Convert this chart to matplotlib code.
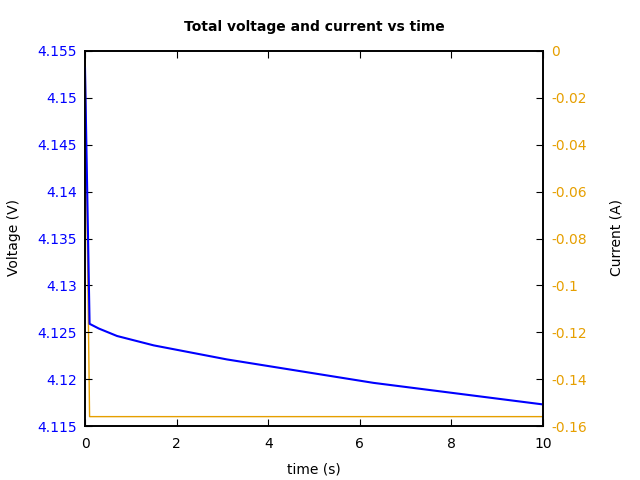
import numpy as np
import matplotlib
matplotlib.use("Agg")
import matplotlib.pyplot as plt
from matplotlib.ticker import FormatStrFormatter

# voltage trace
time_v = [0, 0.1, 0.3, 0.7, 1.5, 3.1, 6.3, 10]
voltage = [4.1532, 4.1259, 4.1254, 4.1246, 4.1236, 4.1221, 4.1196, 4.1173]

# current trace
time_i = [0, 0.1, 10]
current = [0, -0.156, -0.156]

# tick positions
v_ticks = [4.115, 4.12, 4.125, 4.13, 4.135, 4.14, 4.145, 4.15, 4.155]
i_ticks = [-0.16, -0.14, -0.12, -0.1, -0.08, -0.06, -0.04, -0.02, 0.0]

blue = "#0000ff"
orange = "#e69f00"

fig = plt.figure(figsize=(6.4, 4.8), dpi=100)
ax = fig.add_axes([85 / 640, 1 - 426 / 480, (543 - 85) / 640, (426 - 51) / 480])
ax2 = ax.twinx()

ax2.plot(time_i, current, color=orange, lw=1)
ax.plot(time_v, voltage, color=blue, lw=1.5)
ax.set_zorder(ax2.get_zorder() + 1)
ax.patch.set_visible(False)

ax.set_xlim(0, 10)
ax.set_ylim(4.115, 4.155)
ax2.set_ylim(-0.16, 0)
ax.set_xticks(np.arange(0, 11, 2))
ax.set_yticks(v_ticks)
ax2.set_yticks(i_ticks)
ax.yaxis.set_major_formatter(FormatStrFormatter("%g"))
ax2.yaxis.set_major_formatter(FormatStrFormatter("%g"))
ax.xaxis.set_major_formatter(FormatStrFormatter("%g"))

ax.tick_params(axis="x", direction="in", top=True, labelsize=10, length=5, pad=8)
ax.tick_params(axis="y", direction="in", colors="black", labelcolor=blue,
               labelsize=10, length=5, pad=6)
ax2.tick_params(axis="y", direction="in", labelcolor=orange, labelsize=10,
                length=5, pad=6)

for a in (ax, ax2):
    for s in a.spines.values():
        s.set_linewidth(1.2)

ax.set_xlabel("time (s)", fontsize=10, labelpad=8)
fig.text(14 / 640, 1 - 238 / 480, "Voltage (V)", rotation=90,
         ha="center", va="center", fontsize=10)
fig.text(617 / 640, 1 - 238 / 480, "Current (A)", rotation=90,
         ha="center", va="center", fontsize=10)
fig.text(314 / 640, 1 - 27 / 480, "Total voltage and current vs time",
         ha="center", va="center", fontsize=10, fontweight="bold")

fig.savefig("out.png", dpi=100)
